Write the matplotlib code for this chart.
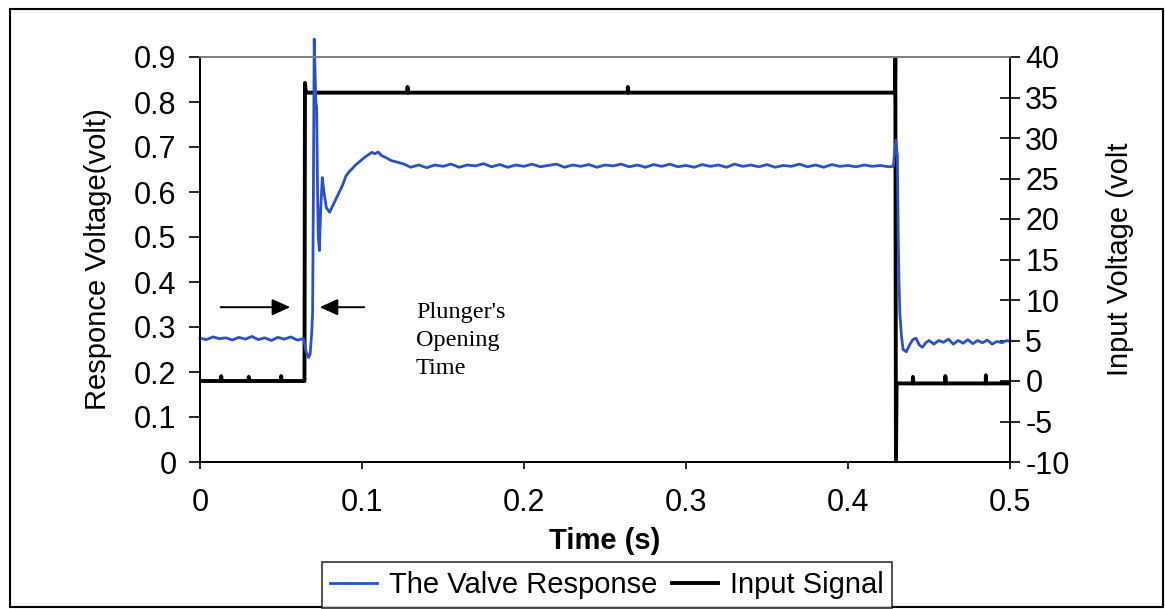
import matplotlib
matplotlib.use("Agg")
import matplotlib.pyplot as plt
from matplotlib.patches import Rectangle

plt.rcParams["font.family"] = ["Liberation Sans", "DejaVu Sans"]
plt.rcParams["axes.unicode_minus"] = False

# valve response (left axis, volt)
t_resp = [0.000, 0.004, 0.008, 0.012, 0.016, 0.020, 0.024, 0.028, 0.032, 0.036,
          0.040, 0.044, 0.048, 0.052, 0.056, 0.060, 0.064, 0.0655, 0.067, 0.068,
          0.069, 0.0695, 0.070, 0.0705, 0.0715, 0.072, 0.0725, 0.073, 0.0737, 0.0745,
          0.0755, 0.0765, 0.078, 0.080, 0.082, 0.084, 0.086, 0.088, 0.090, 0.092,
          0.094, 0.096, 0.098, 0.100, 0.102, 0.104, 0.106, 0.108, 0.110, 0.112,
          0.115, 0.118, 0.122, 0.126, 0.130, 0.135, 0.140, 0.145, 0.150, 0.155,
          0.160, 0.165, 0.170, 0.175, 0.180, 0.185, 0.190, 0.195, 0.200, 0.205,
          0.210, 0.215, 0.220, 0.225, 0.230, 0.235, 0.240, 0.245, 0.250, 0.255,
          0.260, 0.265, 0.270, 0.275, 0.280, 0.285, 0.290, 0.295, 0.300, 0.305,
          0.310, 0.315, 0.320, 0.325, 0.330, 0.335, 0.340, 0.345, 0.350, 0.355,
          0.360, 0.365, 0.370, 0.375, 0.380, 0.385, 0.390, 0.395, 0.400, 0.405,
          0.410, 0.415, 0.420, 0.425, 0.428, 0.4295, 0.4305, 0.431, 0.4315, 0.432,
          0.433, 0.434, 0.436, 0.438, 0.440, 0.442, 0.444, 0.446, 0.448, 0.450,
          0.453, 0.456, 0.459, 0.462, 0.465, 0.468, 0.471, 0.474, 0.477, 0.480,
          0.483, 0.486, 0.489, 0.492, 0.495, 0.498, 0.500]
v_resp = [0.275, 0.272, 0.278, 0.274, 0.276, 0.271, 0.277, 0.273, 0.279, 0.272,
          0.276, 0.270, 0.277, 0.273, 0.278, 0.271, 0.274, 0.245, 0.232, 0.240,
          0.290, 0.330, 0.600, 0.940, 0.800, 0.790, 0.620, 0.500, 0.470, 0.560,
          0.632, 0.600, 0.565, 0.555, 0.570, 0.585, 0.600, 0.615, 0.635, 0.645,
          0.652, 0.660, 0.666, 0.672, 0.678, 0.683, 0.688, 0.685, 0.689, 0.681,
          0.676, 0.670, 0.666, 0.662, 0.655, 0.660, 0.654, 0.660, 0.657, 0.662,
          0.655, 0.660, 0.658, 0.663, 0.656, 0.661, 0.655, 0.660, 0.657, 0.662,
          0.656, 0.659, 0.662, 0.655, 0.660, 0.657, 0.661, 0.655, 0.660, 0.658,
          0.662, 0.656, 0.660, 0.655, 0.661, 0.657, 0.662, 0.656, 0.659, 0.655,
          0.661, 0.657, 0.660, 0.655, 0.662, 0.657, 0.660, 0.656, 0.661, 0.655,
          0.659, 0.657, 0.662, 0.656, 0.660, 0.655, 0.661, 0.657, 0.659, 0.656,
          0.660, 0.657, 0.659, 0.656, 0.657, 0.715, 0.680, 0.500, 0.400, 0.330,
          0.280, 0.250, 0.245, 0.260, 0.272, 0.275, 0.260, 0.255, 0.265, 0.270,
          0.262, 0.270, 0.266, 0.273, 0.262, 0.270, 0.264, 0.272, 0.263, 0.270,
          0.265, 0.271, 0.262, 0.268, 0.265, 0.270, 0.268]

# input signal (right axis, volt)
t_in = [0.000, 0.0130, 0.0131, 0.0133, 0.0300, 0.0301, 0.0303, 0.0500, 0.0501, 0.0503,
        0.0645, 0.0648, 0.0652, 0.0660, 0.1280, 0.1281, 0.1284, 0.2640, 0.2641, 0.2644,
        0.4290, 0.4292, 0.4296, 0.4300, 0.4400, 0.4401, 0.4403, 0.4600, 0.4601, 0.4603,
        0.4850, 0.4851, 0.4853, 0.5000]
v_in = [0.0, 0.0, 0.6, 0.0, 0.0, 0.5, 0.0, 0.0, 0.6, 0.0,
        0.0, 36.8, 35.8, 35.6, 35.6, 36.3, 35.6, 35.6, 36.3, 35.6,
        35.6, 40.0, -10.0, -0.3, -0.3, 0.5, -0.3, -0.3, 0.6, -0.3,
        -0.3, 0.7, -0.3, -0.3]

fig = plt.figure(figsize=(11.65, 6.09), dpi=100)
ax = fig.add_axes([200/1165, 1 - 462/609, 810/1165, 405/609])
ax2 = ax.twinx()
ax.set_zorder(ax2.get_zorder() + 1)
ax.patch.set_visible(False)

l2, = ax2.plot(t_in, v_in, color="black", lw=2.8, label="Input Signal")
l1, = ax.plot(t_resp, v_resp, color="#2b50c8", lw=2.0, label="The Valve Response",
              clip_on=False)

ax.set_xlim(0, 0.5)
ax.set_ylim(0, 0.9)
ax2.set_ylim(-10, 40)
ax.set_xticks([0, 0.1, 0.2, 0.3, 0.4, 0.5])
ax.set_xticklabels(["0", "0.1", "0.2", "0.3", "0.4", "0.5"])
ax.set_yticks([i / 10 for i in range(10)])
ax.set_yticklabels(["0"] + ["0.%d" % i for i in range(1, 10)])
ax2.set_yticks(range(-10, 45, 5))

for a in (ax, ax2):
    for s in a.spines.values():
        s.set_linewidth(1.3)
    a.spines["top"].set_color("#808080")
ax.tick_params(axis="y", direction="out", length=8, width=1.2, labelsize=22, pad=9)
ax.tick_params(axis="x", direction="out", length=5, width=1.2, labelsize=22, pad=14)
ax2.tick_params(axis="y", direction="inout", length=14, width=1.2, labelsize=22, pad=4)

ax.set_xlabel("Time (s)", fontsize=21, fontweight="bold", labelpad=6)
ax.set_ylabel("Responce Voltage(volt)", fontsize=21, labelpad=16)
ax2.set_ylabel("Input Voltage (volt", fontsize=21, labelpad=26)

# plunger opening time annotation
arrow = dict(arrowstyle="-|>,head_length=1.1,head_width=0.5", color="black", lw=1.4)
ax.annotate("", xy=(0.0574, 0.344), xytext=(0.011, 0.344), arrowprops=arrow)
ax.annotate("", xy=(0.0722, 0.344), xytext=(0.1031, 0.344), arrowprops=arrow)
ax.text(0.1333, 0.355, "Plunger's\nOpening\nTime", ha="left", va="top",
        fontsize=17.5, family=["Liberation Serif", "DejaVu Serif"],
        linespacing=1.42, clip_on=False)

leg = fig.legend([l1, l2], ["The Valve Response", "Input Signal"], ncol=2,
                 loc="upper center", bbox_to_anchor=(0.521, 1 - 562/609),
                 fontsize=21, frameon=True, fancybox=False, edgecolor="black",
                 handlelength=1.6, handletextpad=0.4, columnspacing=0.5,
                 borderpad=0.3, borderaxespad=0)
leg.get_frame().set_linewidth(1.2)

fig.patches.append(Rectangle((10/1165, 1 - 607/609), 1153/1165, 598/609,
                             transform=fig.transFigure, fill=False,
                             edgecolor="black", lw=1.5))

fig.savefig("out.png", dpi=100)
